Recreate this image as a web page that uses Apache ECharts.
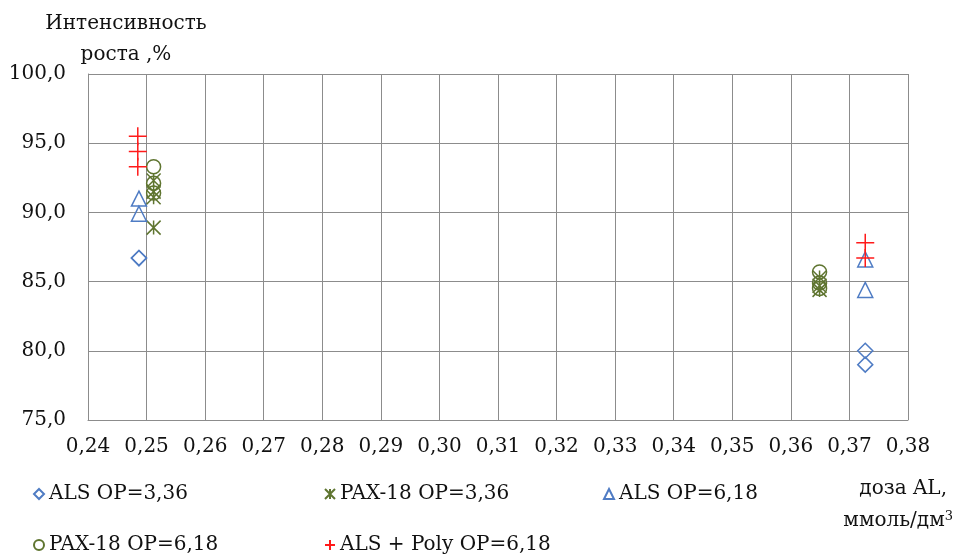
<!DOCTYPE html>
<html>
<head>
<meta charset="utf-8">
<script src="https://cdn.jsdelivr.net/npm/echarts@6/dist/echarts.min.js"></script>
<style>
html,body{margin:0;padding:0;background:#fff;}
#chart{width:957px;height:555px;}
</style>
</head>
<body>
<div id="chart"></div>
<script>
// Growth intensity vs. aluminium dose, five coagulant series
const xTicks = [0.24, 0.25, 0.26, 0.27, 0.28, 0.29, 0.30, 0.31, 0.32, 0.33, 0.34, 0.35, 0.36, 0.37, 0.38];
const yTicks = [75, 80, 85, 90, 95, 100];

const seriesNames = ['ALS OP=3,36', 'PAX-18 OP=3,36', 'ALS OP=6,18', 'PAX-18 OP=6,18', 'ALS + Poly OP=6,18'];

const alsOp336 = [[0.2487, 86.7], [0.2487, 86.7], [0.3727, 80.0], [0.3727, 79.0]];
const pax18Op336 = [[0.2512, 92.3], [0.2512, 91.5], [0.2512, 91.1], [0.2512, 88.9], [0.3649, 85.3], [0.3649, 84.7], [0.3649, 84.4]];
const alsOp618 = [[0.2487, 91.0], [0.2487, 89.9], [0.3727, 86.6], [0.3727, 84.4]];
const pax18Op618 = [[0.2512, 93.3], [0.2512, 92.1], [0.2512, 91.4], [0.3649, 85.7], [0.3649, 84.9], [0.3649, 84.5]];
const alsPolyOp618 = [[0.2485, 95.5], [0.2485, 94.4], [0.2485, 93.3], [0.3727, 87.8], [0.3727, 86.7]];

const BLUE = '#4f7cc4';
const OLIVE = '#5f7530';
const RED = '#ff1a1a';
const FONT = 'DejaVu Serif';
const FS = 20;

const starPath = 'path://M0,0L10,10M10,0L0,10M5,0L5,10';
const plusPath = 'path://M5,0L5,10M0,5L10,5';

function comma(v, d) { return v.toFixed(d).replace('.', ','); }

const chart = echarts.init(document.getElementById('chart'), null, { renderer: 'canvas' });

function hollow(name, data, symbol, size, color, width) {
  return {
    name: name,
    type: 'scatter',
    data: data,
    symbol: symbol,
    symbolSize: size,
    itemStyle: { color: 'rgba(0,0,0,0)', borderColor: color, borderWidth: width, opacity: 1 },
    emphasis: { disabled: true }
  };
}

function legendAt(name, left, top) {
  return {
    data: [name],
    left: left,
    top: top,
    itemWidth: 10,
    itemHeight: 10,
    itemGap: 4,
    selectedMode: false,
    textStyle: { fontFamily: FONT, fontSize: FS, color: '#111' }
  };
}

chart.setOption({
  animation: false,
  backgroundColor: '#fff',
  grid: { left: 88, top: 74, right: 49, bottom: 135, containLabel: false, show: false },
  xAxis: {
    type: 'value',
    min: 0.24,
    max: 0.38,
    interval: 0.01,
    axisLine: { show: true, lineStyle: { color: '#8c8c8c', width: 1 } },
    axisTick: { show: false },
    splitLine: { show: true, lineStyle: { color: '#8c8c8c', width: 1 } },
    axisLabel: {
      margin: 17,
      fontFamily: FONT, fontSize: FS, color: '#111',
      formatter: v => comma(v, 2),
      customValues: xTicks
    }
  },
  yAxis: {
    type: 'value',
    min: 75,
    max: 100,
    interval: 5,
    axisLine: { show: true, lineStyle: { color: '#8c8c8c', width: 1 } },
    axisTick: { show: false },
    splitLine: { show: true, lineStyle: { color: '#8c8c8c', width: 1 } },
    axisLabel: {
      margin: 22,
      fontFamily: FONT, fontSize: FS, color: '#111',
      formatter: v => comma(v, 1),
      customValues: yTicks
    }
  },
  legend: [
    legendAt(seriesNames[0], 28, 479),
    legendAt(seriesNames[1], 319, 479),
    legendAt(seriesNames[2], 598, 479),
    legendAt(seriesNames[3], 28, 530),
    legendAt(seriesNames[4], 319, 530)
  ],
  series: [
    hollow(seriesNames[0], alsOp336, 'diamond', 15, BLUE, 1.5),
    hollow(seriesNames[1], pax18Op336, starPath, 14, OLIVE, 1.5),
    hollow(seriesNames[2], alsOp618, 'triangle', 15, BLUE, 1.5),
    hollow(seriesNames[3], pax18Op618, 'circle', 14, OLIVE, 1.5),
    hollow(seriesNames[4], alsPolyOp618, plusPath, 18, RED, 1.5)
  ],
  graphic: [
    {
      type: 'text', x: 126, y: 24,
      style: { text: 'Интенсивность', font: FS + 'px "DejaVu Serif"', fill: '#111', align: 'center', verticalAlign: 'middle' }
    },
    {
      type: 'text', x: 126, y: 55,
      style: { text: 'роста ,%', font: FS + 'px "DejaVu Serif"', fill: '#111', align: 'center', verticalAlign: 'middle' }
    },
    {
      type: 'text', x: 947, y: 489,
      style: { text: 'доза AL,', font: FS + 'px "DejaVu Serif"', fill: '#111', align: 'right', verticalAlign: 'middle' }
    },
    {
      type: 'text', x: 953, y: 521,
      style: {
        text: '{a|ммоль/дм}{s|3}',
        fill: '#111',
        align: 'right',
        verticalAlign: 'middle',
        rich: {
          a: { fontFamily: FONT, fontSize: FS, color: '#111' },
          s: { fontFamily: FONT, fontSize: 13, color: '#111', verticalAlign: 'top', padding: [0, 0, 9, 0] }
        }
      }
    }
  ]
});
</script>
</body>
</html>
